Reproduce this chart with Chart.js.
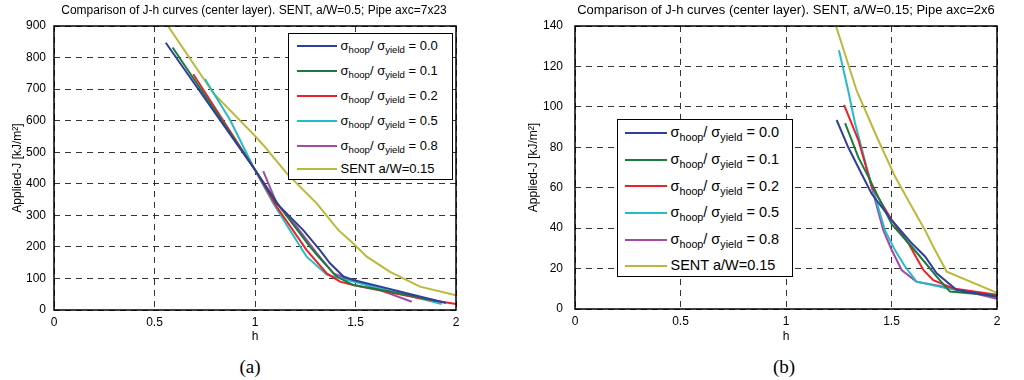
<!DOCTYPE html>
<html>
<head>
<meta charset="utf-8">
<script src="https://cdn.jsdelivr.net/npm/chart.js@4.4.1/dist/chart.umd.min.js"></script>
<style>
  body { margin: 0; background: #fff; width: 1024px; height: 380px; overflow: hidden; position: relative;
         font-family: "Liberation Sans", Arial, sans-serif; color: #000; }
  .plot { position: absolute; top: 0; width: 512px; height: 350px; }
  .title { position: absolute; white-space: nowrap; transform: translateX(-50%); line-height: 1; }
  .cap { position: absolute; font-family: "Liberation Serif", "Times New Roman", serif; font-size: 19px;
         transform: translateX(-50%); line-height: 1; }
  .legend { position: absolute; background: #fff; border: 1.5px solid #000; box-sizing: border-box; }
  .legend .ln { position: absolute; height: 2px; }
  .legend .tx { position: absolute; white-space: nowrap; line-height: 1; }
  .legend sub { font-size: 0.74em; vertical-align: -0.35em; line-height: 0; }
</style>
</head>
<body>
<div class="plot" style="left:0"><canvas id="chartA" width="512" height="350"></canvas></div>
<div class="plot" style="left:512px"><canvas id="chartB" width="512" height="350"></canvas></div>

<div class="title" style="left:254px; top:4px; font-size:12px">Comparison of J-h curves (center layer). SENT, a/W=0.5; Pipe axc=7x23</div>
<div class="title" style="left:786px; top:3px; font-size:13px">Comparison of J-h curves (center layer). SENT, a/W=0.15; Pipe axc=2x6</div>
<div class="cap" style="left:250px; top:357px">(a)</div>
<div class="cap" style="left:784px; top:357px">(b)</div>

<div id="legendA" class="legend"></div>
<div id="legendB" class="legend"></div>

<script>
  // legend labels and colours (same for both panels)
  const seriesLabels = ['0.0', '0.1', '0.2', '0.5', '0.8', 'SENT a/W=0.15'];
  const seriesColors = ['#2e3f9c', '#1c7a3e', '#ea2128', '#25bcc6', '#a24aa8', '#bab93c'];

  // x ticks (h)
  const hTicks = [0, 0.5, 1, 1.5, 2];

  // panel (a): SENT a/W=0.5, pipe 7x23
  const hA00 = [0.556, 0.995, 1.108, 1.24, 1.323, 1.373, 1.44, 1.489, 1.65, 1.95];
  const jA00 = [847, 449, 338, 253, 190, 148, 106, 95, 70, 22];
  const hA01 = [0.590, 0.995, 1.124, 1.274, 1.323, 1.406, 1.489, 1.655, 1.9];
  const jA01 = [832, 449, 327, 200, 164, 106, 79, 60, 30];
  const hA02 = [0.693, 0.995, 1.108, 1.257, 1.357, 1.423, 1.489, 1.655, 1.821, 2.0];
  const jA02 = [747, 449, 327, 190, 116, 90, 79, 58, 37, 19];
  const hA05 = [0.751, 0.876, 0.995, 1.091, 1.174, 1.257, 1.357, 1.39, 1.489, 1.655, 1.929];
  const jA05 = [732, 602, 449, 338, 253, 169, 112, 106, 90, 63, 19];
  const hA08 = [1.041, 1.108, 1.207, 1.307, 1.39, 1.456, 1.489, 1.622, 1.78];
  const jA08 = [440, 338, 264, 180, 116, 100, 95, 63, 26];
  const hAsent = [0.567, 0.793, 0.995, 1.041, 1.158, 1.307, 1.415, 1.489, 1.556, 1.672, 1.821, 2.0];
  const jAsent = [900, 687, 555, 523, 433, 338, 253, 211, 169, 121, 74, 47];
  const jTicksA = [0, 100, 200, 300, 400, 500, 600, 700, 800, 900];

  // panel (b): SENT a/W=0.15, pipe 2x6
  const hB00 = [1.24, 1.295, 1.343, 1.406, 1.501, 1.596, 1.659, 1.714, 1.809, 2.0];
  const jB00 = [93.5, 80, 70, 57, 44, 32.5, 26, 17.7, 9.4, 6];
  const hB01 = [1.28, 1.343, 1.39, 1.501, 1.596, 1.651, 1.714, 1.777, 2.0];
  const jB01 = [92, 75, 65.5, 42, 30.8, 24, 16, 8.6, 6.6];
  const hB02 = [1.275, 1.343, 1.406, 1.501, 1.58, 1.651, 1.698, 1.793, 2.0];
  const jB02 = [101, 83.6, 60.5, 44, 32.5, 19.3, 14.3, 10.2, 7];
  const hB05 = [1.251, 1.295, 1.327, 1.39, 1.469, 1.517, 1.564, 1.619, 1.762, 2.0];
  const jB05 = [128, 108, 92, 67, 39, 29, 21, 13.5, 10.2, 6.1];
  const hB08 = [1.39, 1.422, 1.461, 1.501, 1.548, 1.619, 1.793, 2.0];
  const jB08 = [67, 54, 39, 29.2, 19.3, 13.5, 10.2, 5];
  const hBsent = [1.237, 1.335, 1.437, 1.517, 1.596, 1.659, 1.698, 1.762, 2.0];
  const jBsent = [140, 108, 83.6, 65.5, 50.6, 39, 30.8, 18.5, 8];
  const jTicksB = [0, 20, 40, 60, 80, 100, 120, 140];

  function toPoints(hs, js) {
    return hs.map(function(h, i) { return { x: h, y: js[i] }; });
  }

  function buildDatasets(pairs) {
    return pairs.map(function(p, i) {
      return {
        label: seriesLabels[i],
        data: toPoints(p[0], p[1]),
        borderColor: seriesColors[i],
        backgroundColor: seriesColors[i],
        borderWidth: 2,
        pointRadius: 0,
        tension: 0
      };
    });
  }

  // MATLAB style closed box round the plot area
  const boxPlugin = {
    id: 'box',
    afterDraw: function(chart) {
      const a = chart.chartArea;
      const ctx = chart.ctx;
      ctx.save();
      ctx.strokeStyle = '#000';
      ctx.lineWidth = 1.5;
      ctx.strokeRect(a.left, a.top, a.right - a.left, a.bottom - a.top);
      ctx.restore();
    }
  };

  function makeChart(id, datasets, jTicks, o) {
    const gridOpts = {
      color: 'rgba(30,30,30,0.9)',
      lineWidth: 1,
      drawTicks: false
    };
    const tickFont = { family: 'Liberation Sans', size: 12 };
    return new Chart(document.getElementById(id), {
      type: 'line',
      data: { datasets: datasets },
      plugins: [boxPlugin],
      options: {
        responsive: false,
        animation: false,
        layout: { padding: { left: 0, right: o.padRight, top: 26, bottom: 0 } },
        plugins: { legend: { display: false }, tooltip: { enabled: false } },
        scales: {
          x: {
            type: 'linear',
            min: hTicks[0],
            max: hTicks[hTicks.length - 1],
            afterBuildTicks: function(s) { s.ticks = hTicks.map(function(v) { return { value: v }; }); },
            grid: gridOpts,
            border: { display: false, dash: [6, 5] },
            ticks: { color: '#000', padding: 5, font: tickFont,
                     callback: function(v) { return String(v); } },
            title: { display: true, text: 'h', color: '#000', padding: { top: 2, bottom: 6 }, font: tickFont },
            afterFit: function(s) { s.height = o.xHeight; }
          },
          y: {
            type: 'linear',
            min: jTicks[0],
            max: jTicks[jTicks.length - 1],
            afterBuildTicks: function(s) { s.ticks = jTicks.map(function(v) { return { value: v }; }); },
            grid: gridOpts,
            border: { display: false, dash: [6, 5] },
            ticks: { color: '#000', padding: o.yPad, font: tickFont,
                     callback: function(v) { return String(v); } },
            title: { display: true, text: 'Applied-J [kJ/m\u00b2]', color: '#000', padding: { top: o.yTitleTop, bottom: 2 },
                     font: tickFont },
            afterFit: function(s) { s.width = o.yWidth; }
          }
        }
      }
    });
  }

  makeChart('chartA', buildDatasets([
    [hA00, jA00], [hA01, jA01], [hA02, jA02], [hA05, jA05], [hA08, jA08], [hAsent, jAsent]
  ]), jTicksA, { padRight: 56, xHeight: 40, yWidth: 54, yPad: 8, yTitleTop: 10 });

  makeChart('chartB', buildDatasets([
    [hB00, jB00], [hB01, jB01], [hB02, jB02], [hB05, jB05], [hB08, jB08], [hBsent, jBsent]
  ]), jTicksB, { padRight: 27, xHeight: 41, yWidth: 63, yPad: 12, yTitleTop: 14 });

  // legend boxes with sub-scripted sigma labels
  function buildLegend(elId, box, rows, fontSize) {
    const el = document.getElementById(elId);
    el.style.left = box.left + 'px';
    el.style.top = box.top + 'px';
    el.style.width = (box.right - box.left) + 'px';
    el.style.height = (box.bottom - box.top) + 'px';
    let html = '';
    seriesLabels.forEach(function(lab, i) {
      const cy = rows.cy[i] - box.top - 1.5;
      const text = i < 5 ? '\u03c3<sub>hoop</sub>/ \u03c3<sub>yield</sub> = ' + lab : lab;
      html += '<div class="ln" style="left:' + (rows.lineX0 - box.left - 1.5) + 'px; width:' + (rows.lineX1 - rows.lineX0) +
              'px; top:' + (cy - 1) + 'px; background:' + seriesColors[i] + '"></div>';
      html += '<div class="tx" style="left:' + (rows.textX - box.left - 1.5) + 'px; top:' + (cy - fontSize * 0.52) +
              'px; font-size:' + fontSize + 'px">' + text + '</div>';
    });
    el.innerHTML = html;
  }

  buildLegend('legendA', { left: 288, top: 33, right: 453, bottom: 180 },
    { lineX0: 297, lineX1: 337, textX: 341, cy: [46.7, 71.7, 96.7, 121.7, 146.7, 169.3] }, 13);
  buildLegend('legendB', { left: 617, top: 119, right: 793, bottom: 277 },
    { lineX0: 625, lineX1: 667, textX: 671, cy: [133, 160, 186.7, 213, 240, 266] }, 14.5);
</script>
</body>
</html>
